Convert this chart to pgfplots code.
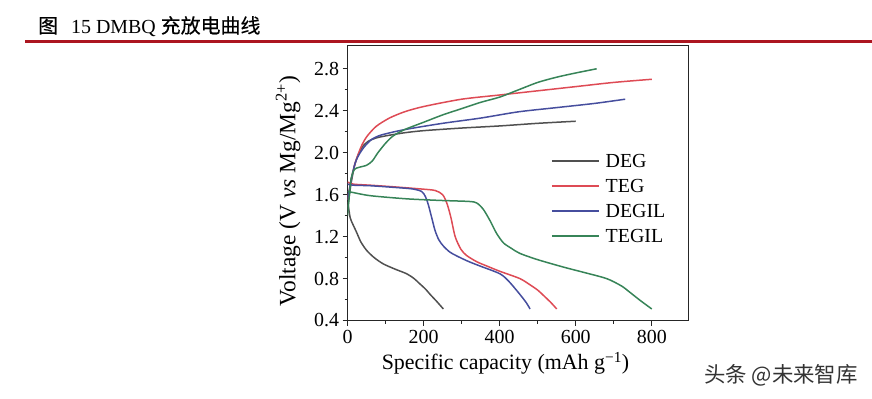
\documentclass[border=0pt]{standalone}
\usepackage{fontspec}
\setmainfont{Liberation Serif}
\newfontfamily\cjk{Noto Sans CJK SC}
\newfontfamily\cjkt[FakeBold=0.35]{Noto Sans CJK SC}
\usepackage{pgfplots}
\pgfplotsset{compat=1.18}
\definecolor{cDEG}{RGB}{80,80,80}
\definecolor{cTEG}{RGB}{222,75,85}
\definecolor{cDEGIL}{RGB}{70,78,158}
\definecolor{cTEGIL}{RGB}{55,132,88}
\definecolor{titlered}{RGB}{172,22,32}
\begin{document}
\begin{tikzpicture}[x=1bp,y=1bp]
\useasboundingbox (0,0) rectangle (872,-398);
\node[anchor=base west, inner sep=0] at (38,-33) {\fontsize{20}{24}\selectfont{\cjkt 图}\hspace{13bp}15 DMBQ {\cjkt 充放电曲线}};
\draw[titlered, line width=3bp] (25,-41) -- (872,-41);
\node[anchor=center, inner sep=0, text=black!80] at (781,-375) {\cjk\fontsize{21.5}{24}\selectfont 头条 @未来智库};
\begin{axis}[
  at={(347.5bp,-320.5bp)}, anchor=south west,
  scale only axis, width=340.8bp, height=274.8bp,
  xmin=0, xmax=896, ymin=0.4, ymax=3.02,
  xtick={0,200,400,600,800},
  ytick={0.4,0.8,1.2,1.6,2.0,2.4,2.8},
  minor x tick num=1, minor y tick num=1,
  xtick pos=bottom, ytick pos=left,
  tick align=outside,
  major tick length=5bp, minor tick length=3bp,
  axis line style={line width=1.3bp, black!85},
  every tick/.style={black!85, line width=0.9bp},
  yticklabel style={/pgf/number format/.cd, fixed, fixed zerofill, precision=1},
  /pgf/number format/assume math mode=true,
  tick label style={font=\fontsize{20}{22}\selectfont},
  xticklabel style={yshift=-1bp},
  xlabel={Specific capacity (mAh g\textsuperscript{−1})},
  ylabel={Voltage (V \textit{vs} Mg/Mg\textsuperscript{2+})},
  every axis x label/.style={at={(axis description cs:0.4636,-0.180)}, anchor=base, font=\fontsize{22}{24}\selectfont},
  every axis y label/.style={at={(axis description cs:-0.1526,0.471)}, anchor=base, rotate=90, font=\fontsize{23.5}{25}\selectfont},
  legend style={draw=none, fill=none, at={(axis cs:527,2.005)}, anchor=north west,
    font=\fontsize{20}{22}\selectfont, row sep=12bp,
    nodes={inner sep=0bp, text height=13bp, text depth=0bp},
    /tikz/every odd column/.append style={column sep=6bp}},
  legend cell align=left,
  legend image code/.code={\draw[#1] (0bp,0bp) -- (47bp,0bp);},
  every axis plot/.append style={line width=1.5bp, smooth, tension=0.45},
]
% DEG
\addplot[cDEG] coordinates {(0,1.45)(5,1.6)(10,1.72)(18,1.87)(28,1.98)(40,2.06)(55,2.11)(75,2.14)(100,2.16)(150,2.19)(200,2.21)(300,2.235)(400,2.255)(500,2.28)(600,2.30)};
\addlegendentry{DEG}
\addplot[cDEG, forget plot] coordinates {(2,1.5)(7,1.38)(15,1.31)(24,1.24)(35,1.15)(50,1.07)(70,1.0)(94,0.94)(125,0.89)(156,0.845)(175,0.80)(190,0.75)(205,0.70)(217,0.65)(235,0.58)(252,0.51)};
% TEG
\addplot[cTEG] coordinates {(0,1.55)(5,1.65)(10,1.75)(20,1.90)(35,2.05)(50,2.15)(75,2.25)(110,2.33)(150,2.39)(200,2.44)(300,2.51)(400,2.55)(500,2.59)(600,2.63)(700,2.67)(800,2.70)};
\addlegendentry{TEG}
\addplot[cTEG, forget plot] coordinates {(0,1.72)(15,1.70)(60,1.69)(120,1.675)(190,1.655)(230,1.64)(250,1.60)(262,1.51)(272,1.38)(283,1.20)(298,1.08)(313,1.02)(340,0.96)(366,0.92)(400,0.87)(453,0.80)(480,0.74)(500,0.69)(515,0.64)(535,0.57)(550,0.51)};
% DEGIL
\addplot[cDEGIL] coordinates {(0,1.55)(5,1.65)(10,1.75)(20,1.90)(30,1.98)(45,2.06)(65,2.13)(90,2.17)(150,2.22)(250,2.28)(350,2.33)(450,2.39)(550,2.43)(650,2.47)(730,2.51)};
\addlegendentry{DEGIL}
\addplot[cDEGIL, forget plot] coordinates {(0,1.70)(15,1.69)(60,1.685)(120,1.67)(170,1.655)(195,1.63)(205,1.58)(212,1.51)(220,1.40)(230,1.26)(240,1.17)(252,1.11)(270,1.05)(296,1.00)(320,0.96)(348,0.92)(401,0.845)(425,0.77)(453,0.65)(470,0.57)(480,0.51)};
% TEGIL
\addplot[cTEGIL] coordinates {(0,1.4)(5,1.6)(10,1.76)(18,1.84)(30,1.86)(50,1.88)(65,1.92)(80,2.0)(100,2.09)(120,2.16)(150,2.22)(200,2.29)(250,2.36)(300,2.42)(350,2.48)(400,2.53)(450,2.60)(500,2.67)(550,2.72)(600,2.76)(655,2.80)};
\addlegendentry{TEGIL}
\addplot[cTEGIL, forget plot] coordinates {(0,1.63)(15,1.62)(60,1.59)(156,1.56)(243,1.545)(320,1.535)(340,1.52)(357,1.46)(375,1.35)(392,1.23)(410,1.14)(430,1.09)(453,1.04)(500,0.98)(567,0.91)(620,0.86)(681,0.80)(720,0.73)(742,0.67)(770,0.59)(800,0.51)};
\end{axis}
\end{tikzpicture}
\end{document}
